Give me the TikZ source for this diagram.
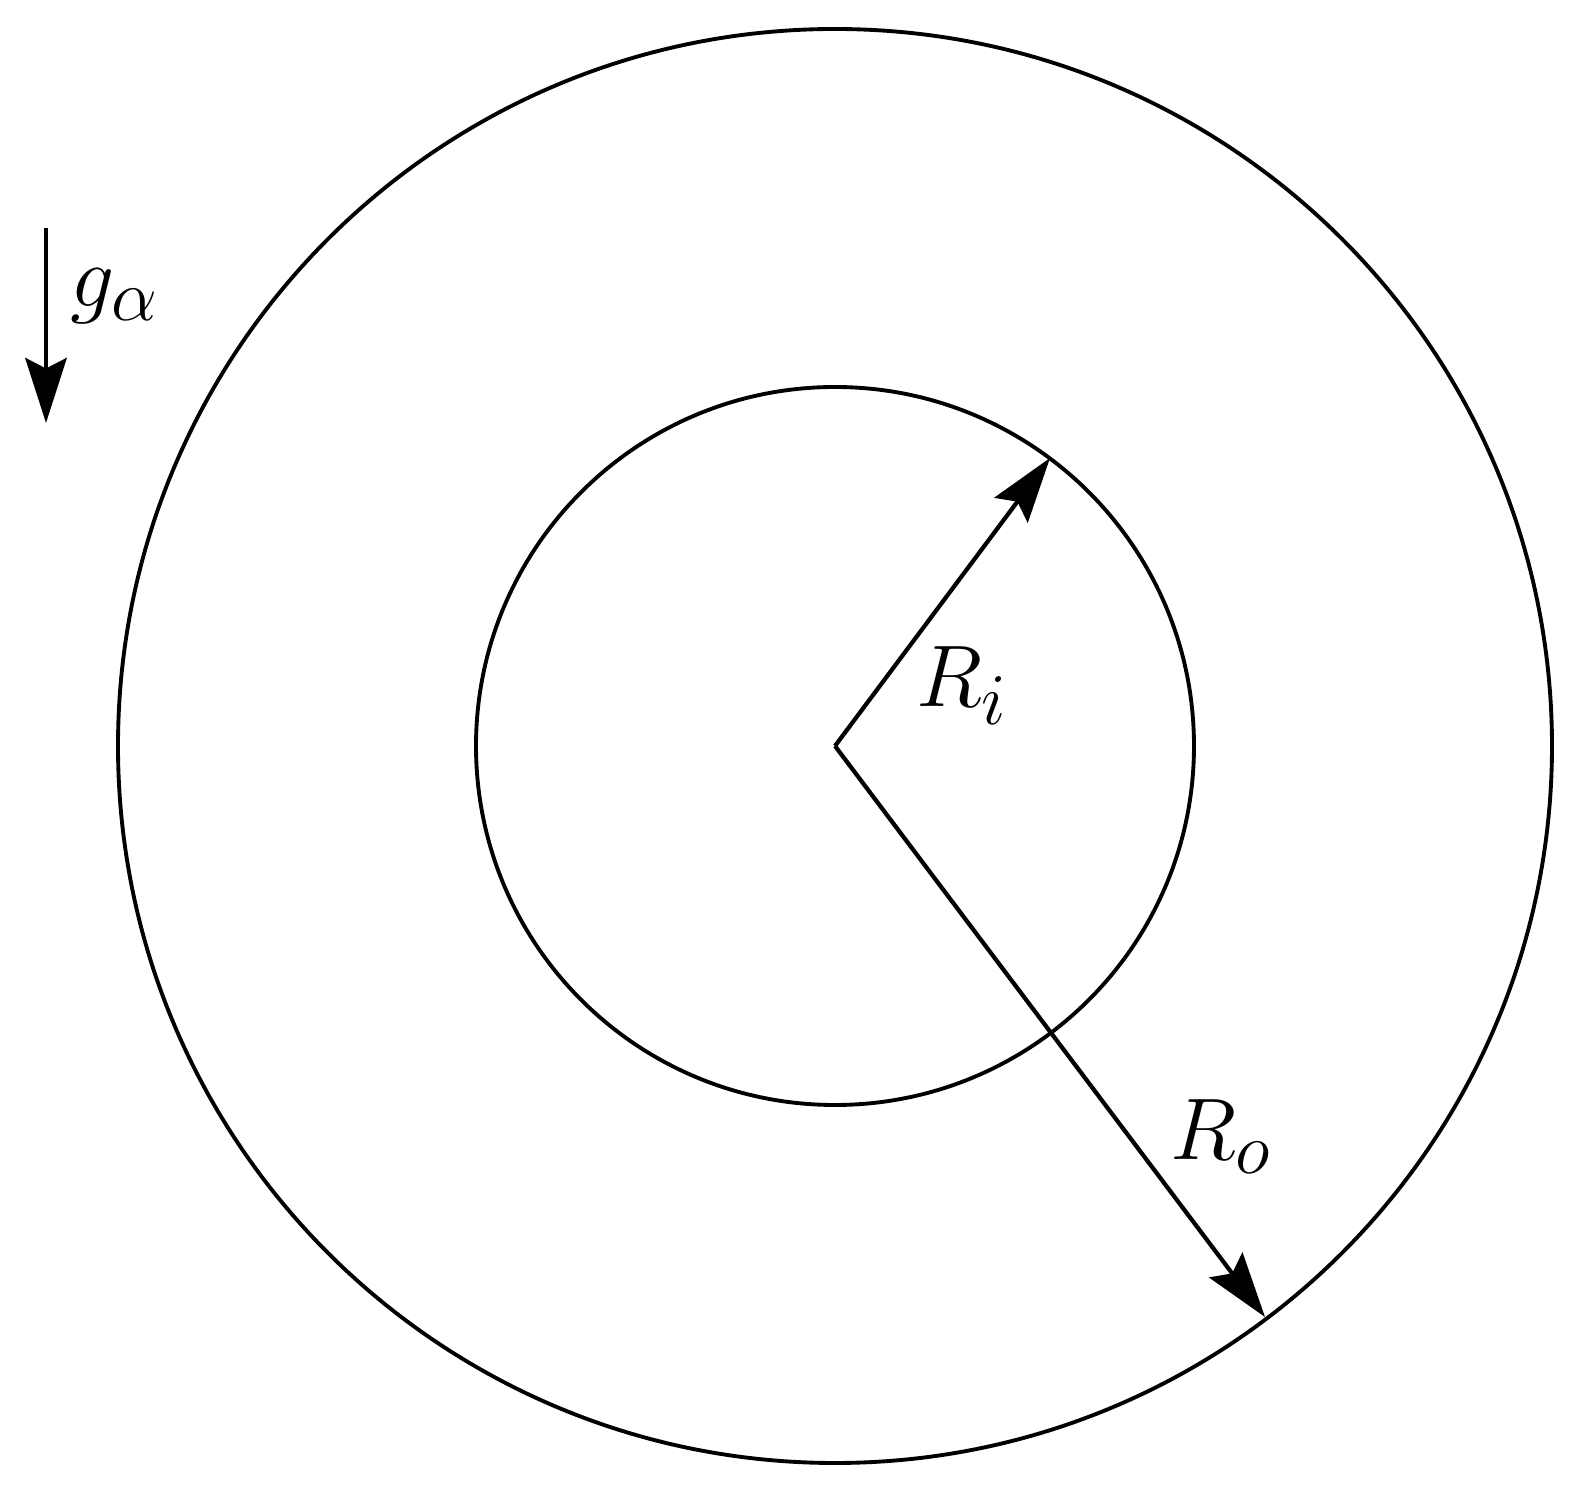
\documentclass[tikz,border=0pt]{standalone}
\usetikzlibrary{arrows.meta}
\begin{document}
\begin{tikzpicture}[x=0.01cm,y=-0.01cm,
  ring/.style={line width=1.1pt},
  radius arrow/.style={line width=1.2pt,-{Stealth[length=18.5pt,width=11.8pt,inset=3pt]}},
  lbl/.style={inner sep=0pt,font=\fontsize{28}{34}\selectfont}]
\useasboundingbox (0,0) rectangle (1584,1507);
\coordinate (c) at (835,746);
\draw[ring] (c) circle[radius=717];
\draw[ring] (c) circle[radius=359];
\coordinate (ri) at (1050,458);
\coordinate (ro) at (1265,1317);
\draw[radius arrow] (c) -- (ri);
\draw[radius arrow] (c) -- (ro);
\node[lbl,anchor=base west] (rilbl) at (916,707) {$R_i$};
\node[lbl,anchor=base west] (rolbl) at (1170,1160) {$R_o$};
\coordinate (gtop) at (46,228);
\coordinate (gbot) at (46,423);
\draw[radius arrow] (gtop) -- (gbot);
\node[lbl,anchor=base west] (glbl) at (70,307) {$g_\alpha$};
\end{tikzpicture}
\end{document}
